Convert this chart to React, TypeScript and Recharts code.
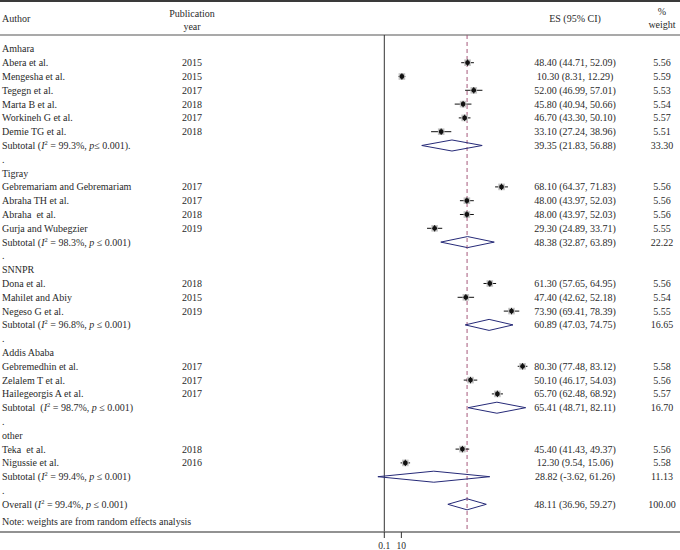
import React from 'react';
import { ComposedChart, Scatter, XAxis, YAxis, ErrorBar, ReferenceLine } from 'recharts';

// ---------- data ----------
const groupNames = ['Amhara', 'Tigray', 'SNNPR', 'Addis Ababa', 'other'];

const authors = [
  'Abera et al.', 'Mengesha et al.', 'Tegegn et al.', 'Marta B et al.', 'Workineh G et al.', 'Demie TG et al.',
  'Gebremariam and Gebremariam', 'Abraha TH et al.', 'Abraha  et al.', 'Gurja and Wubegzier',
  'Dona et al.', 'Mahilet and Abiy', 'Negeso G et al.',
  'Gebremedhin et al.', 'Zelalem T et al.', 'Hailegeorgis A et al.',
  'Teka  et al.', 'Nigussie et al.',
];
const years = ['2015', '2015', '2017', '2018', '2017', '2018', '2017', '2017', '2018', '2019', '2018', '2015', '2019', '2017', '2017', '2017', '2018', '2016'];
const studyGroup = [0, 0, 0, 0, 0, 0, 1, 1, 1, 1, 2, 2, 2, 3, 3, 3, 4, 4];
const es = [48.4, 10.3, 52.0, 45.8, 46.7, 33.1, 68.1, 48.0, 48.0, 29.3, 61.3, 47.4, 73.9, 80.3, 50.1, 65.7, 45.4, 12.3];
const lower = [44.71, 8.31, 46.99, 40.94, 43.3, 27.24, 64.37, 43.97, 43.97, 24.89, 57.65, 42.62, 69.41, 77.48, 46.17, 62.48, 41.43, 9.54];
const upper = [52.09, 12.29, 57.01, 50.66, 50.1, 38.96, 71.83, 52.03, 52.03, 33.71, 64.95, 52.18, 78.39, 83.12, 54.03, 68.92, 49.37, 15.06];
const weights = [5.56, 5.59, 5.53, 5.54, 5.57, 5.51, 5.56, 5.56, 5.56, 5.55, 5.56, 5.54, 5.55, 5.58, 5.56, 5.57, 5.56, 5.58];

const subES = [39.35, 48.38, 60.89, 65.41, 28.82];
const subLo = [21.83, 32.87, 47.03, 48.71, -3.62];
const subHi = [56.88, 63.89, 74.75, 82.11, 61.26];
const subW = [33.3, 22.22, 16.65, 16.7, 11.13];
const subI2 = ['99.3', '98.3', '96.8', '98.7', '99.4'];
const subPre = ['Subtotal (', 'Subtotal (', 'Subtotal (', 'Subtotal  (', 'Subtotal ('];
const subPost = ['p\u2264 0.001).', 'p \u2264 0.001)', 'p \u2264 0.001)', 'p \u2264 0.001)', 'p \u2264 0.001)'];

const overallES = 48.11;
const overallLo = 36.96;
const overallHi = 59.27;
const overallW = 100.0;
const overallI2 = '99.4';

const noteText = 'Note: weights are from random effects analysis';
const xTicks = [0.1, 10];

// ---------- layout / style ----------
const W = 680;
const H = 550;
const FONT = '"Liberation Serif", "DejaVu Serif", serif';
const FS = 10;
const TXT = '#2a2a2a';
const DIAMOND = '#262a78';
const DASH = '#a5587a';
const X_DOMAIN: [number, number] = [-222.81, 171.62];
const Y_DOMAIN: [number, number] = [-3.543, 35.007];
const HALF_DIAMOND = 0.4;

// ---------- build rows ----------
type Row = { kind: string; x: number; y: number; [k: string]: any };
const labelRows: Row[] = [];
const studyRows: Row[] = [];
const diamonds: { x: number; y: number }[][] = [];

const f2 = (v: number) => v.toFixed(2);
const mkDiamond = (lo: number, m: number, hi: number, r: number) => [
  { x: lo, y: r }, { x: m, y: r - HALF_DIAMOND }, { x: hi, y: r }, { x: m, y: r + HALF_DIAMOND }, { x: lo, y: r },
];

labelRows.push({ kind: 'header', x: 0.1, y: -2.167 });
let r = 0;
groupNames.forEach((g, gi) => {
  labelRows.push({ kind: 'group', x: 0.1, y: r, text: g });
  r++;
  authors.forEach((a, i) => {
    if (studyGroup[i] !== gi) return;
    const row = {
      kind: 'study', x: es[i], y: r, ci: [es[i] - lower[i], upper[i] - es[i]],
      author: a, year: years[i], est: `${f2(es[i])} (${f2(lower[i])}, ${f2(upper[i])})`, w: f2(weights[i]), weight: weights[i],
    };
    studyRows.push(row);
    labelRows.push({ ...row, x: 0.1 });
    r++;
  });
  labelRows.push({
    kind: 'sub', x: 0.1, y: r, pre: subPre[gi], i2: subI2[gi], post: subPost[gi],
    est: `${f2(subES[gi])} (${f2(subLo[gi])}, ${f2(subHi[gi])})`, w: f2(subW[gi]),
  });
  diamonds.push(mkDiamond(subLo[gi], subES[gi], subHi[gi], r));
  r++;
  labelRows.push({ kind: 'dot', x: 0.1, y: r });
  r++;
});
labelRows.push({
  kind: 'sub', x: 0.1, y: r, pre: 'Overall (', i2: overallI2, post: 'p \u2264 0.001)',
  est: `${f2(overallES)} (${f2(overallLo)}, ${f2(overallHi)})`, w: f2(overallW),
});
diamonds.push(mkDiamond(overallLo, overallES, overallHi, r));
labelRows.push({ kind: 'note', x: 0.1, y: r + 1.28, text: noteText });

// ---------- shapes ----------
const COL_AUTHOR = 2;
const COL_YEAR = 192;
const COL_ES = 575;
const COL_W = 662;

const T = (props: any) => (
  <text fontFamily={FONT} fontSize={FS} fill={TXT} style={{ whiteSpace: 'pre' }} {...props} />
);

const LabelShape = (p: any) => {
  const { cy, payload } = p;
  if (cy == null || !payload) return <g />;
  const b = cy + 3.5;
  switch (payload.kind) {
    case 'header':
      return (
        <g>
          <T x={COL_AUTHOR} y={b}>Author</T>
          <T x={COL_YEAR} y={b - 5} textAnchor="middle">Publication</T>
          <T x={COL_YEAR} y={b + 7.5} textAnchor="middle">year</T>
          <T x={COL_ES} y={b} textAnchor="middle">ES (95% CI)</T>
          <T x={COL_W} y={b - 7} textAnchor="middle">%</T>
          <T x={COL_W} y={b + 5.5} textAnchor="middle">weight</T>
        </g>
      );
    case 'group':
    case 'note':
      return <T x={COL_AUTHOR} y={b}>{payload.text}</T>;
    case 'dot':
      return <T x={COL_AUTHOR} y={b}>.</T>;
    case 'study':
      return (
        <g>
          <T x={COL_AUTHOR} y={b}>{payload.author}</T>
          <T x={COL_YEAR} y={b} textAnchor="middle">{payload.year}</T>
          <T x={COL_ES} y={b} textAnchor="middle">{payload.est}</T>
          <T x={COL_W} y={b} textAnchor="middle">{payload.w}</T>
        </g>
      );
    case 'sub':
      return (
        <g>
          <T x={COL_AUTHOR} y={b}>
            <tspan>{payload.pre}</tspan>
            <tspan fontStyle="italic">I</tspan>
            <tspan fontSize={6.5} dy={-4}>2</tspan>
            <tspan dy={4}>{` = ${payload.i2}%, `}</tspan>
            <tspan fontStyle="italic">p</tspan>
            <tspan>{payload.post.slice(1)}</tspan>
          </T>
          <T x={COL_ES} y={b} textAnchor="middle">{payload.est}</T>
          <T x={COL_W} y={b} textAnchor="middle">{payload.w}</T>
        </g>
      );
    default:
      return <g />;
  }
};

const BoxShape = (p: any) => {
  const { cx, cy, payload } = p;
  if (cx == null) return <g />;
  const s = Math.sqrt(payload.weight) * 2.8;
  return <rect x={cx - s / 2} y={cy - s / 2} width={s} height={s} fill="#c4c4c4" />;
};

const DotShape = (p: any) => {
  const { cx, cy } = p;
  if (cx == null) return <g />;
  return (
    <g>
      <circle cx={cx} cy={cy} r={2.4} fill="#111" />
      <line x1={cx} x2={cx} y1={cy - 3.2} y2={cy + 3.2} stroke="#111" strokeWidth={1} />
    </g>
  );
};

const Empty = () => <g />;

export default function App() {
  const yMax = Y_DOMAIN[1];
  return (
    <div style={{ position: 'absolute', left: 0, top: 0, width: W, height: H, background: '#fff' }}>
      <ComposedChart width={W} height={H} margin={{ top: 0, right: 0, bottom: 0, left: 0 }}>
        <XAxis
          type="number"
          dataKey="x"
          domain={X_DOMAIN}
          allowDataOverflow
          ticks={xTicks}
          height={18}
          tickSize={6}
          tickMargin={4}
          axisLine={{ stroke: '#6e6e6e', strokeWidth: 1.5 }}
          tickLine={{ stroke: '#333' }}
          tick={{ fontSize: 9.5, fill: TXT, fontFamily: FONT }}
          interval={0}
        />
        <YAxis type="number" dataKey="y" domain={Y_DOMAIN} allowDataOverflow reversed hide />
        <ReferenceLine y={-3.47} stroke="#3a3a3a" strokeWidth={2} />
        <ReferenceLine y={-1.007} stroke="#8c8c8c" strokeWidth={1.5} />
        <ReferenceLine segment={[{ x: 0.1, y: -1.007 }, { x: 0.1, y: yMax }]} stroke="#333" strokeWidth={1} />
        <ReferenceLine
          segment={[{ x: overallES, y: -1.007 }, { x: overallES, y: yMax }]}
          stroke={DASH}
          strokeWidth={1}
          strokeDasharray="4 3"
        />
        <Scatter data={labelRows} shape={LabelShape} isAnimationActive={false} legendType="none" />
        <Scatter data={studyRows} shape={BoxShape} isAnimationActive={false} legendType="none" />
        <Scatter data={studyRows} shape={DotShape} isAnimationActive={false} legendType="none">
          <ErrorBar dataKey="ci" direction="x" width={0} stroke="#111" strokeWidth={1} />
        </Scatter>
        {diamonds.map((d, i) => (
          <Scatter
            key={i}
            data={d}
            shape={Empty}
            line={{ stroke: DIAMOND, strokeWidth: 1 }}
            lineType="joint"
            isAnimationActive={false}
            legendType="none"
          />
        ))}
      </ComposedChart>
    </div>
  );
}
